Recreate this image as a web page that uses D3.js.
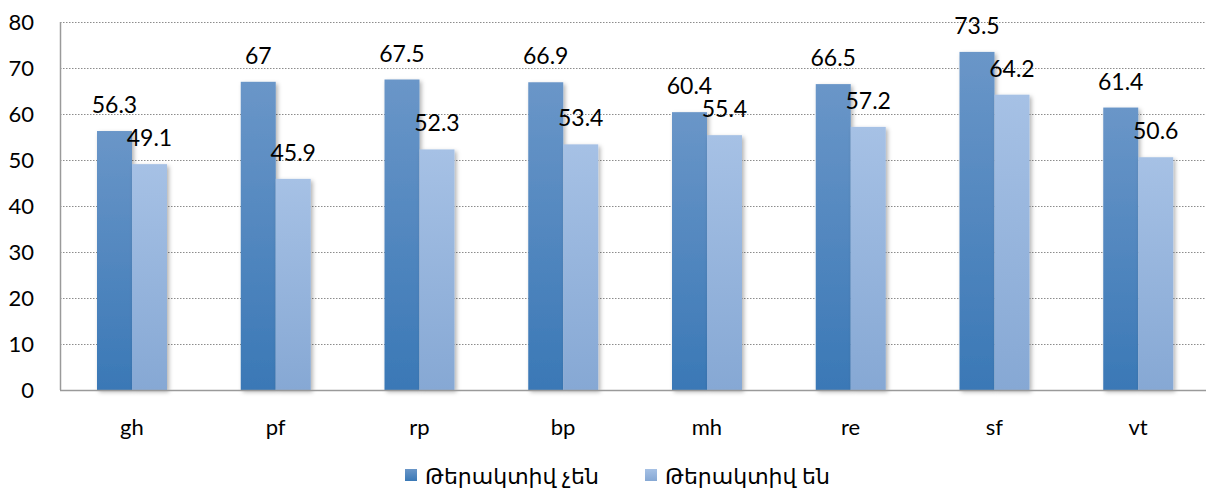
<!DOCTYPE html>
<html>
<head>
<meta charset="utf-8">
<script src="https://cdn.jsdelivr.net/npm/d3@7"></script>
<style>
  html, body { margin: 0; padding: 0; background: #fff; }
  svg { display: block; }
  text { font-family: Lato, "DejaVu Sans", sans-serif; fill: #000; }
</style>
</head>
<body>
<svg id="chart" width="1210" height="497"></svg>
<script>
const categories = ["gh", "pf", "rp", "bp", "mh", "re", "sf", "vt"];
const seriesNames = ["Թերակտիվ չեն", "Թերակտիվ են"];
const notInactive = [56.3, 67, 67.5, 66.9, 60.4, 66.5, 73.5, 61.4];
const inactive = [49.1, 45.9, 52.3, 53.4, 55.4, 57.2, 64.2, 50.6];
const yTicks = [0, 10, 20, 30, 40, 50, 60, 70, 80];

const svg = d3.select("#chart");
const margin = { left: 60, right: 0, top: 22, bottom: 107 };
const W = 1210, H = 497;

const x = d3.scaleBand().domain(categories).range([margin.left, W - margin.right]).paddingInner(0).paddingOuter(0);
const inner = d3.scaleBand().domain([0, 1]).range([0, 70]);
const y = d3.scaleLinear().domain([0, 80]).range([H - margin.bottom, margin.top]);

const defs = svg.append("defs");
function grad(id, top, bottom) {
  const g = defs.append("linearGradient").attr("id", id).attr("x1", 0).attr("y1", 0).attr("x2", 0).attr("y2", 1);
  g.append("stop").attr("offset", "0%").attr("stop-color", top);
  g.append("stop").attr("offset", "100%").attr("stop-color", bottom);
}
grad("g0", "#6a96c8", "#3a78b6");
grad("g1", "#a6c1e5", "#86a8d4");
const f = defs.append("filter").attr("id", "shadow").attr("x", "-20%").attr("y", "-5%").attr("width", "150%").attr("height", "115%");
f.append("feDropShadow").attr("dx", 2).attr("dy", 2).attr("stdDeviation", 2).attr("flood-color", "#000").attr("flood-opacity", 0.3);

// gridlines
svg.append("g").selectAll("line").data(yTicks.filter(d => d > 0)).join("line")
  .attr("x1", margin.left).attr("x2", W - 4)
  .attr("y1", d => Math.round(y(d)) + 0.5).attr("y2", d => Math.round(y(d)) + 0.5)
  .attr("stroke", "#8c8c8c").attr("stroke-width", 1).attr("stroke-dasharray", "1.5,1.5");

// y axis labels
const yAxis = d3.axisLeft(y).tickValues(yTicks).tickSize(0).tickPadding(26);
const ya = svg.append("g").attr("transform", `translate(${margin.left},0)`).call(yAxis);
ya.select(".domain").remove();
ya.selectAll("text").attr("font-size", 22).attr("font-family", "Lato, sans-serif").attr("fill", "#000");

// bars
const series = [notInactive, inactive];
series.forEach((vals, si) => {
  svg.append("g").selectAll("rect").data(categories).join("rect")
    .attr("x", c => x(c) + 37 + inner(si))
    .attr("y", (c, i) => y(vals[i]))
    .attr("width", inner.bandwidth())
    .attr("height", (c, i) => y(0) - y(vals[i]))
    .attr("fill", `url(#g${si})`)
    .attr("filter", "url(#shadow)");
});

// value labels
series.forEach((vals, si) => {
  svg.append("g").selectAll("text").data(categories).join("text")
    .attr("x", c => x(c) + 37 + inner(si) + inner.bandwidth() / 2)
    .attr("y", (c, i) => y(vals[i]) - 18)
    .attr("text-anchor", "middle")
    .attr("font-size", 23)
    .text((c, i) => vals[i]);
});

// axis lines
svg.append("line").attr("x1", margin.left + 0.5).attr("x2", margin.left + 0.5)
  .attr("y1", y(80)).attr("y2", y(0)).attr("stroke", "#9a9a9a").attr("stroke-width", 1.5);
svg.append("line").attr("x1", margin.left).attr("x2", W - 4)
  .attr("y1", Math.round(y(0)) + 0.5).attr("y2", Math.round(y(0)) + 0.5).attr("stroke", "#9a9a9a").attr("stroke-width", 1.5);

// x axis labels
const xAxis = d3.axisBottom(x).tickSize(0).tickPadding(29);
const xa = svg.append("g").attr("transform", `translate(0,${y(0)})`).call(xAxis);
xa.select(".domain").remove();
xa.selectAll("text").attr("font-size", 22).attr("font-family", "Lato, sans-serif").attr("fill", "#000");

// legend
const legendX = [405, 645];
const lg = svg.append("g");
seriesNames.forEach((name, i) => {
  lg.append("rect").attr("x", legendX[i]).attr("y", 469).attr("width", 12).attr("height", 12)
    .attr("fill", `url(#g${i})`);
  lg.append("text").attr("x", legendX[i] + 20).attr("y", 484)
    .attr("font-size", 22).attr("font-family", "\"DejaVu Serif\", serif").text(name);
});
</script>
</body>
</html>
